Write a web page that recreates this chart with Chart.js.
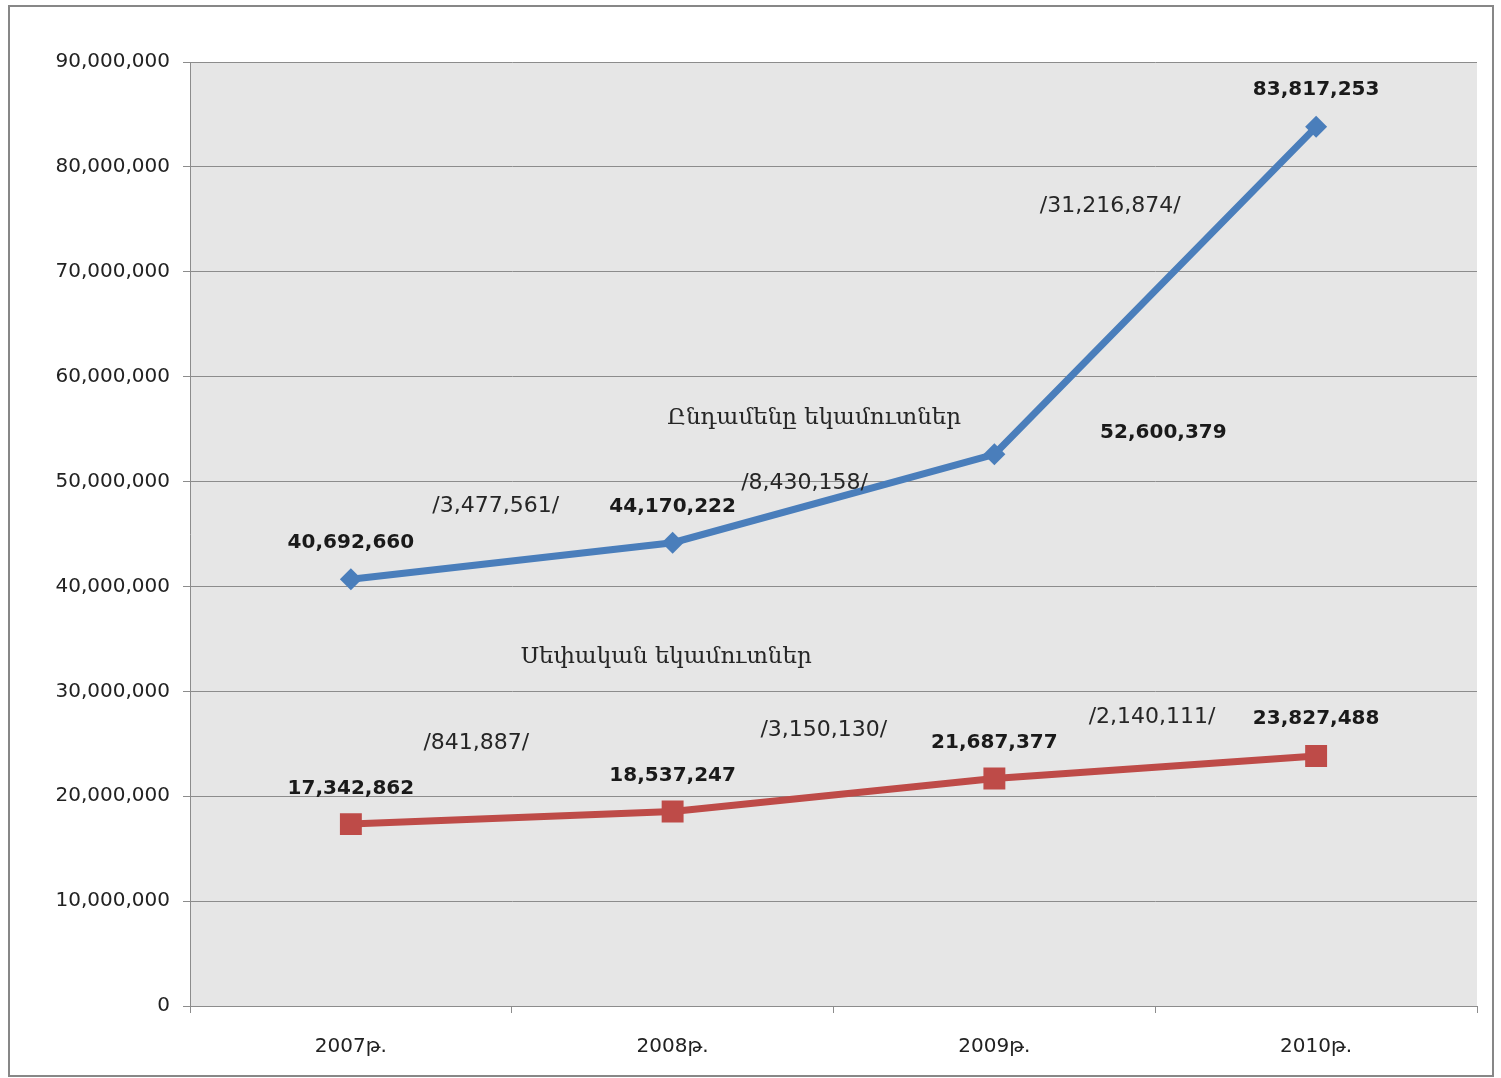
<!DOCTYPE html>
<html lang="hy">
<head>
  <meta charset="UTF-8">
  <title>Եկամուտներ 2007-2010</title>
  <script src="https://cdn.jsdelivr.net/npm/chart.js"></script>
  <style>
    html, body { margin: 0; padding: 0; background: #fff; }
    canvas { display: block; }
  </style>
</head>
<body>
  <canvas id="incomeChart" width="1501" height="1078"></canvas>
  <script>
    // տվյալներ
    const years = ['2007թ.', '2008թ.', '2009թ.', '2010թ.'];
    const totalIncome = [40692660, 44170222, 52600379, 83817253];
    const ownIncome = [17342862, 18537247, 21687377, 23827488];
    const yTicks = [0, 10000000, 20000000, 30000000, 40000000, 50000000, 60000000, 70000000, 80000000, 90000000];

    // growth notes: text, category position, value position
    const noteTexts = ['/3,477,561/', '/8,430,158/', '/31,216,874/', '/841,887/', '/3,150,130/', '/2,140,111/'];
    const noteX = [0.45, 1.41, 2.36, 0.39, 1.47, 2.49];
    const noteY = [47670000, 49860000, 76270000, 25070000, 26310000, 27550000];

    const seriesNames = ['Ընդամենը եկամուտներ', 'Սեփական եկամուտներ'];
    const seriesNameX = [1.44, 0.98];
    const seriesNameY = [56060000, 33270000];

    const fmt = v => v.toLocaleString('en-US');
    const baseFont = '"DejaVu Sans", sans-serif';

    // label offsets (px) from each point
    const labelShift = {
      0: [[0, -36], [0, -36], [169, -21], [0, -37]],
      1: [[0, -35], [0, -36], [0, -36], [0, -37]]
    };

    const textPlugin = {
      id: 'textPlugin',
      beforeDraw(chart) {
        const { ctx, chartArea: a } = chart;
        ctx.save();
        ctx.fillStyle = '#e6e6e6';
        ctx.fillRect(a.left, a.top, a.right - a.left, a.bottom - a.top);
        ctx.strokeStyle = '#878787';
        ctx.lineWidth = 2;
        ctx.strokeRect(9, 6, 1484, 1070);
        ctx.restore();
      },
      afterDatasetsDraw(chart) {
        const { ctx, scales: { x, y } } = chart;
        ctx.save();
        ctx.textAlign = 'center';
        ctx.textBaseline = 'middle';
        ctx.fillStyle = '#1a1a1a';

        // values
        ctx.font = 'bold 20px ' + baseFont;
        chart.data.datasets.forEach((ds, di) => {
          chart.getDatasetMeta(di).data.forEach((pt, i) => {
            const s = labelShift[di][i];
            ctx.fillText(fmt(ds.data[i]), pt.x + s[0], pt.y + s[1]);
          });
        });

        // growth notes
        ctx.fillStyle = '#262626';
        ctx.font = '22px ' + baseFont;
        noteTexts.forEach((t, i) => {
          ctx.fillText(t, x.getPixelForValue(noteX[i]), y.getPixelForValue(noteY[i]));
        });

        // series names
        ctx.font = '23px "DejaVu Serif", "DejaVu Sans", serif';
        seriesNames.forEach((t, i) => {
          ctx.fillText(t, x.getPixelForValue(seriesNameX[i]), y.getPixelForValue(seriesNameY[i]));
        });
        ctx.restore();
      }
    };

    new Chart(document.getElementById('incomeChart'), {
      type: 'line',
      data: {
        labels: years,
        datasets: [{
          label: seriesNames[0],
          data: totalIncome,
          borderColor: '#4a7ebb',
          backgroundColor: '#4a7ebb',
          borderWidth: 7,
          pointStyle: 'rectRot',
          pointRadius: 11,
          pointBorderWidth: 0,
          tension: 0
        }, {
          label: seriesNames[1],
          data: ownIncome,
          borderColor: '#be4b48',
          backgroundColor: '#be4b48',
          borderWidth: 7,
          pointStyle: 'rect',
          pointRadius: 15.5,
          pointBorderWidth: 0,
          tension: 0
        }]
      },
      options: {
        responsive: false,
        animation: false,
        layout: { padding: { top: 62, right: 24, left: 0, bottom: 0 } },
        plugins: {
          legend: { display: false },
          tooltip: { enabled: false }
        },
        scales: {
          y: {
            min: 0,
            max: 90000000,
            afterBuildTicks: s => { s.ticks = yTicks.map(v => ({ value: v })); },
            afterFit: s => { s.width = 190; },
            grid: { color: '#8c8c8c', lineWidth: 1, tickLength: 7 },
            border: { color: '#8c8c8c', width: 1 },
            ticks: {
              color: '#222',
              padding: 13,
              font: { family: baseFont, size: 20 },
              callback: v => fmt(v)
            }
          },
          x: {
            offset: true,
            afterFit: s => { s.height = 72; },
            grid: { offset: true, drawOnChartArea: false, color: '#8c8c8c', tickLength: 7 },
            border: { color: '#8c8c8c', width: 1 },
            ticks: {
              color: '#222',
              padding: 22,
              font: { family: baseFont, size: 20 }
            }
          }
        }
      },
      plugins: [textPlugin]
    });
  </script>
</body>
</html>
